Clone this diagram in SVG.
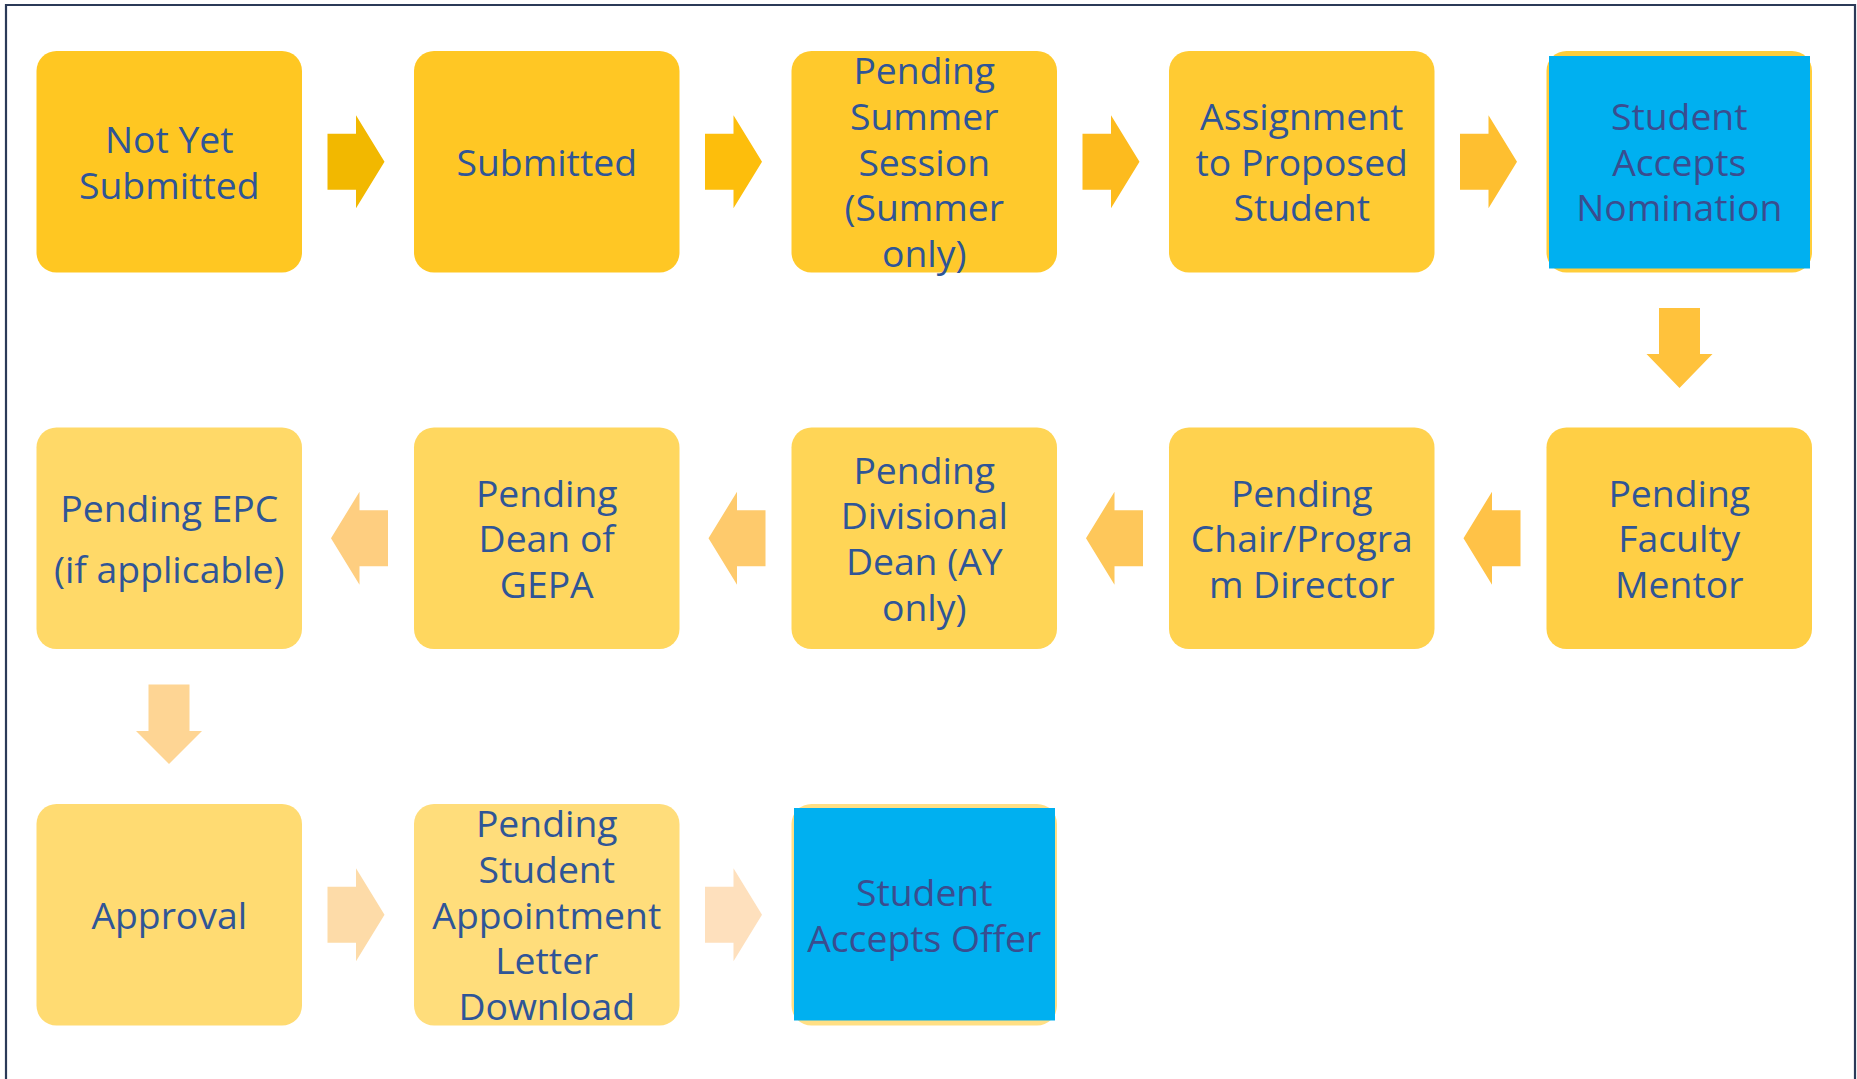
<svg xmlns="http://www.w3.org/2000/svg" width="1857" height="1079" viewBox="0 0 1857 1079">
<style>
.t{font-family:"Open Sans","Noto Sans","Liberation Sans",sans-serif;font-size:37.3px;fill:#2F5597;text-anchor:middle}
.tb{fill:#3A4D8F}
.blue{fill:#00B0F0}
</style>
<rect x="0" y="0" width="1857" height="1079" fill="#FFFFFF"/>
<path d="M6,1079 V5 H1855 V1079" fill="none" stroke="#2B3A58" stroke-width="2.2"/>
<g id="connectors">
<path d="M327.5,133.75 H356 V115.25 L384.5,161.75 L356,208.25 V189.75 H327.5 Z" fill="#F2B800"/>
<path d="M705,133.75 H733.5 V115.25 L762,161.75 L733.5,208.25 V189.75 H705 Z" fill="#FDBE0C"/>
<path d="M1082.5,133.75 H1111 V115.25 L1139.5,161.75 L1111,208.25 V189.75 H1082.5 Z" fill="#FDBB1E"/>
<path d="M1460,133.75 H1488.5 V115.25 L1517,161.75 L1488.5,208.25 V189.75 H1460 Z" fill="#FEBF30"/>
<path d="M1659,308 H1700 V354 H1712.5 L1679.5,388 L1646.5,354 H1659 Z" fill="#FFC23C"/>
<path d="M1520.5,510.25 H1492 V491.75 L1463.5,538.25 L1492,584.75 V566.25 H1520.5 Z" fill="#FFC247"/>
<path d="M1143,510.25 H1114.5 V491.75 L1086,538.25 L1114.5,584.75 V566.25 H1143 Z" fill="#FEC75A"/>
<path d="M765.5,510.25 H737 V491.75 L708.5,538.25 L737,584.75 V566.25 H765.5 Z" fill="#FECA6C"/>
<path d="M388,510.25 H359.5 V491.75 L331,538.25 L359.5,584.75 V566.25 H388 Z" fill="#FECE80"/>
<path d="M148.5,684.5 H189.5 V731 H202 L169,764 L136,731 H148.5 Z" fill="#FED594"/>
<path d="M327.5,886.75 H356 V868.25 L384.5,914.75 L356,961.25 V942.75 H327.5 Z" fill="#FDDBA8"/>
<path d="M705,886.75 H733.5 V868.25 L762,914.75 L733.5,961.25 V942.75 H705 Z" fill="#FEE0BD"/>
</g>
<g id="n1"><rect x="36.5" y="51" width="265.5" height="221.5" rx="20" fill="#FFC722"/>
<text class="t" x="169.25"><tspan x="169.25" y="153">Not Yet</tspan><tspan x="169.25" y="198.7">Submitted</tspan></text></g>
<g id="n2"><rect x="414" y="51" width="265.5" height="221.5" rx="20" fill="#FFC724"/>
<text class="t" x="546.75" y="175.7">Submitted</text></g>
<g id="n3"><rect x="791.5" y="51" width="265.5" height="221.5" rx="20" fill="#FFC92C"/>
<text class="t"><tspan x="924.25" y="84.3">Pending</tspan><tspan x="924.25" y="130">Summer</tspan><tspan x="924.25" y="175.7">Session</tspan><tspan x="924.25" y="221.4">(Summer</tspan><tspan x="924.25" y="267.1">only)</tspan></text></g>
<g id="n4"><rect x="1169" y="51" width="265.5" height="221.5" rx="20" fill="#FFCB33"/>
<text class="t"><tspan x="1301.75" y="130">Assignment</tspan><tspan x="1301.75" y="175.7">to Proposed</tspan><tspan x="1301.75" y="221.4">Student</tspan></text></g>
<g id="n5"><rect x="1546.5" y="51" width="265.5" height="221.5" rx="20" fill="#FFCD3A"/>
<rect class="blue" x="1549" y="56" width="261" height="212.5"/>
<text class="t tb"><tspan x="1679.25" y="130">Student</tspan><tspan x="1679.25" y="175.7">Accepts</tspan><tspan x="1679.25" y="221.4">Nomination</tspan></text></g>
<g id="n6"><rect x="1546.5" y="427.5" width="265.5" height="221.5" rx="20" fill="#FFCF45"/>
<text class="t"><tspan x="1679.25" y="506.5">Pending</tspan><tspan x="1679.25" y="552.2">Faculty</tspan><tspan x="1679.25" y="597.9">Mentor</tspan></text></g>
<g id="n7"><rect x="1169" y="427.5" width="265.5" height="221.5" rx="20" fill="#FFD24F"/>
<text class="t"><tspan x="1301.75" y="506.5">Pending</tspan><tspan x="1301.75" y="552.2">Chair/Progra</tspan><tspan x="1301.75" y="597.9">m Director</tspan></text></g>
<g id="n8"><rect x="791.5" y="427.5" width="265.5" height="221.5" rx="20" fill="#FFD556"/>
<text class="t"><tspan x="924.25" y="483.7">Pending</tspan><tspan x="924.25" y="529.4">Divisional</tspan><tspan x="924.25" y="575.1">Dean (AY</tspan><tspan x="924.25" y="620.8">only)</tspan></text></g>
<g id="n9"><rect x="414" y="427.5" width="265.5" height="221.5" rx="20" fill="#FFD75F"/>
<text class="t"><tspan x="546.75" y="506.5">Pending</tspan><tspan x="546.75" y="552.2">Dean of</tspan><tspan x="546.75" y="597.9">GEPA</tspan></text></g>
<g id="n10"><rect x="36.5" y="427.5" width="265.5" height="221.5" rx="20" fill="#FFD968"/>
<text class="t"><tspan x="169.25" y="521.5">Pending EPC</tspan><tspan x="169.25" y="583">(if applicable)</tspan></text></g>
<g id="n11"><rect x="36.5" y="804" width="265.5" height="221.5" rx="20" fill="#FFDB72"/>
<text class="t" x="169.25" y="928.7">Approval</text></g>
<g id="n12"><rect x="414" y="804" width="265.5" height="221.5" rx="20" fill="#FFDD7B"/>
<text class="t"><tspan x="546.75" y="837.3">Pending</tspan><tspan x="546.75" y="883">Student</tspan><tspan x="546.75" y="928.7">Appointment</tspan><tspan x="546.75" y="974.4">Letter</tspan><tspan x="546.75" y="1020.1">Download</tspan></text></g>
<g id="n13"><rect x="791.5" y="804" width="265.5" height="221.5" rx="20" fill="#FFDF84"/>
<rect class="blue" x="794" y="808" width="261" height="212.5"/>
<text class="t tb"><tspan x="924.25" y="906">Student</tspan><tspan x="924.25" y="951.5">Accepts Offer</tspan></text></g>
</svg>
